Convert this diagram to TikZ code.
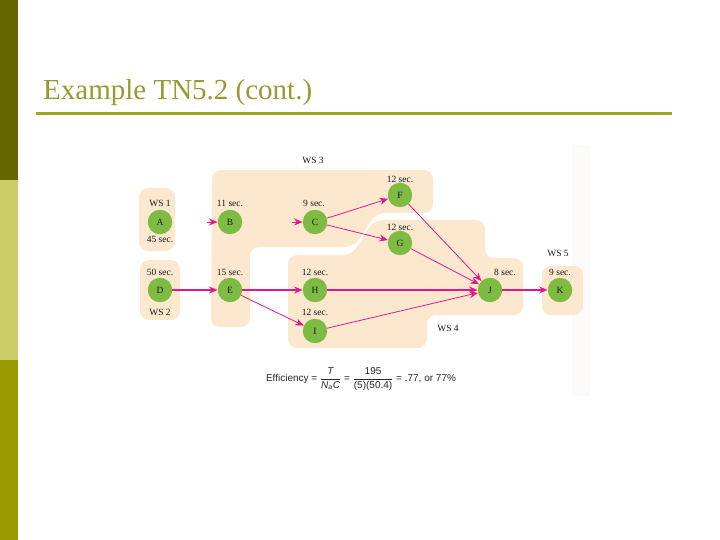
\documentclass[tikz,border=0pt]{standalone}
\usepackage{fontspec}
\setmainfont{Liberation Serif}
\newfontfamily\formfont{Liberation Sans}
\usetikzlibrary{arrows.meta}
\definecolor{bardark}{HTML}{666600}
\definecolor{barlight}{HTML}{CCCC66}
\definecolor{barmid}{HTML}{999900}
\definecolor{titlecol}{HTML}{999933}
\definecolor{rulecol}{HTML}{A3A322}
\definecolor{beige}{HTML}{FCE8CE}
\definecolor{faintband}{HTML}{FDFBF9}
\definecolor{nodegreen}{HTML}{7DBB42}
\definecolor{arrowcol}{HTML}{E0198A}
\begin{document}
\begin{tikzpicture}[x=1pt,y=-1pt,
  task/.style={circle, fill=nodegreen, minimum size=24.5pt, inner sep=0pt,
    font=\fontsize{9.5}{10}\selectfont, text=black!90},
  lbl/.style={font=\fontsize{9.5}{10}\selectfont, inner sep=0pt, text=black!90},
  wsbox/.style={fill=beige, rounded corners=9pt},
  arr/.style={draw=arrowcol, line width=0.8pt, -{Stealth[length=8.5pt,width=7pt]}},
  arrthick/.style={arr, line width=1.3pt}]
\useasboundingbox (0,0) rectangle (720,540);
% left bar
\fill[bardark] (0,0) rectangle (18,180);
\fill[barlight] (0,180) rectangle (18,360);
\fill[barmid] (0,360) rectangle (18,540);
% title
\node[anchor=base west, font=\fontsize{29}{34}\selectfont, text=titlecol, inner sep=0pt] (title) at (43,100) {Example TN5.2 (cont.)};
\draw[rulecol, line width=3pt] (36,114) -- (672,114);
% faint band
\fill[faintband] (572,145) rectangle (590,396);
% workstation areas
\fill[wsbox] (139,188) rectangle (175,251);
\fill[wsbox] (140,260) rectangle (180,320);
\fill[wsbox] (212,170) -- (433,170) -- (433,213) -- (376,213) -- (354,247) -- (250,247) -- (250,327) -- (211,327) -- cycle;
\fill[wsbox] (288,255) -- (352,255) -- (374,220) -- (485,220) -- (485,258) -- (523,258) -- (523,315) -- (427,315) -- (427,348) -- (288,348) -- cycle;
\fill[wsbox] (542,266) rectangle (583,315);
% tasks
\node[task] (A) at (160,222) {A};
\node[task] (B) at (230,222) {B};
\node[task] (C) at (315,222) {C};
\node[task] (F) at (400,195) {F};
\node[task] (G) at (400,243) {G};
\node[task] (D) at (160,290) {D};
\node[task] (E) at (230,290) {E};
\node[task] (H) at (315,290) {H};
\node[task] (I) at (315,331) {I};
\node[task] (J) at (490,290) {J};
\node[task] (K) at (560,290) {K};
% labels
\node[lbl] (wsone) at (160,203) {WS 1};
\node[lbl] (tA) at (160,239) {45 sec.};
\node[lbl] (tB) at (230,203) {11 sec.};
\node[lbl] (tC) at (314,203) {9 sec.};
\node[lbl] (tF) at (400,179) {12 sec.};
\node[lbl] (tG) at (400,227) {12 sec.};
\node[lbl] (tD) at (160,272) {50 sec.};
\node[lbl] (wstwo) at (160,312) {WS 2};
\node[lbl] (tE) at (230,272) {15 sec.};
\node[lbl] (tH) at (315,272) {12 sec.};
\node[lbl] (tI) at (315,312) {12 sec.};
\node[lbl] (tJ) at (505,272) {8 sec.};
\node[lbl] (tK) at (560,272) {9 sec.};
\node[lbl] (wsthree) at (313,160) {WS 3};
\node[lbl] (wsfour) at (448,328) {WS 4};
\node[lbl] (wsfive) at (558,253) {WS 5};
% connectors
\coordinate (inB) at (207,222);
\coordinate (inC) at (292,222);
\draw[arr] (inB) -- (B);
\draw[arr] (inC) -- (C);
\draw[arr] (C) -- (F);
\draw[arr] (C) -- (G);
\draw[arrthick] (D) -- (E);
\draw[arrthick] (E) -- (H);
\draw[arr] (E) -- (I);
\draw[arr] (F) -- (J);
\draw[arr] (G) -- (J);
\draw[arrthick] (H) -- (J);
\draw[arr] (I) -- (J);
\draw[arrthick] (J) -- (K);
% efficiency
\node[font=\formfont\fontsize{10}{12}\selectfont, inner sep=0pt, text=black!85] (eff) at (361,379)
  {Efficiency = $\displaystyle\frac{\mbox{\textit{T}}}{\mbox{\textit{N}\textsubscript{\textit{a}}\textit{C}}}$ = $\displaystyle\frac{\mbox{195}}{\mbox{(5)(50.4)}}$ = .77, or 77\%};
\end{tikzpicture}
\end{document}
